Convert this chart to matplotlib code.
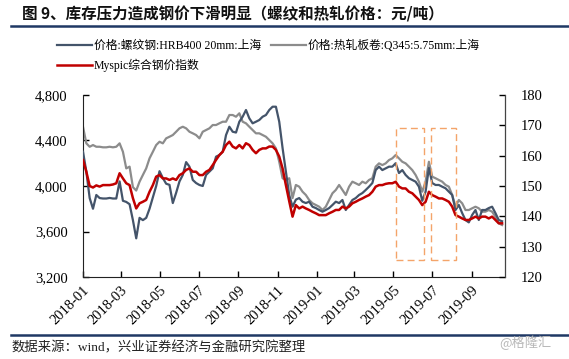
import matplotlib
matplotlib.use("Agg")
import matplotlib.pyplot as plt
import matplotlib.dates as mdates
from matplotlib.patches import Rectangle
from matplotlib.lines import Line2D
from matplotlib.ticker import FuncFormatter, MultipleLocator
import pandas as pd

plt.rcParams['font.family'] = ['Liberation Serif', 'Noto Sans CJK SC', 'DejaVu Sans']

title = "图 9、库存压力造成钢价下滑明显（螺纹和热轧价格：元/吨）"
source = "数据来源：wind，兴业证券经济与金融研究院整理"
watermark = "@格隆汇"
label_rebar = "价格:螺纹钢:HRB400 20mm:上海"
label_hrc = "价格:热轧板卷:Q345:5.75mm:上海"
label_idx = "Myspic综合钢价指数"

start_date = "2018-01-01"
end_date = "2019-10-18"

rebar = [4301, 4126, 3894, 3800, 3921, 3894, 3890, 3890, 3895, 3890, 3890, 4040, 3870,
         3860, 3840, 3700, 3540, 3720, 3700, 3720, 3800, 3900, 4000, 4130, 4070, 4020,
         4010, 3850, 3940, 4040, 4097, 4210, 4170,
         4053, 4026, 4009, 4000, 4097, 4126, 4155, 4258, 4272, 4301, 4448, 4521, 4477,
         4470, 4565, 4609, 4668, 4595, 4551, 4565, 4580, 4609, 4624, 4668, 4697, 4697,
         4565, 4334, 4126, 3921,
         3818, 3880, 3894, 3862, 3850, 3862, 3818, 3806, 3789, 3774, 3789, 3806, 3833,
         3862, 3850, 3877, 3789, 3833, 3877, 3894, 3921, 3938, 3965, 3994, 4026, 4140,
         4170, 4140, 4155, 4170,
         4170, 4200, 4114, 4140, 4097, 4068, 4053, 4038, 3994, 3870, 3950, 4158, 4026,
         4009, 4009, 3994, 3980, 3950, 3921, 3789, 3833, 3762, 3701, 3680, 3745, 3789,
         3701, 3789, 3789, 3806, 3818, 3762, 3701, 3690]

hrc = [4520, 4375, 4345, 4360, 4345, 4345, 4340, 4340, 4345, 4340, 4345, 4375, 4301,
       4155, 4170, 3990, 3960, 4038, 4097, 4155, 4243, 4301, 4360, 4389, 4375, 4419,
       4433, 4448, 4477, 4507, 4521, 4507, 4477,
       4463, 4448, 4419, 4477, 4492, 4507, 4536, 4536, 4551, 4565, 4565, 4624, 4624,
       4609, 4639, 4565, 4551, 4521, 4492, 4463, 4463, 4448, 4433, 4404, 4375, 4331,
       4213, 4068, 4053, 4068,
       3894, 4009, 3994, 3950, 3921, 3877, 3848, 3833, 3818, 3789, 3818, 3877, 3936,
       3965, 4009, 3965, 3921, 3994, 4038, 4024, 4009, 4038, 4024, 4053, 4068, 4170,
       4199, 4184, 4199, 4228,
       4243, 4272, 4243, 4213, 4199, 4170, 4140, 4097, 4038, 3950, 4038, 4213, 4082,
       4068, 4053, 4038, 4009, 3994, 3921, 3818, 3877, 3848, 3789, 3789, 3804, 3818,
       3804, 3774, 3774, 3789, 3774, 3730, 3672, 3657]

myspic = [158.5, 154.7, 150.0, 149.5, 150.2, 149.8, 150.3, 150.3, 150.3, 150.5, 150.9, 154.2, 152.5,
          150.9, 150.3, 146.0, 142.6, 144.3, 144.8, 145.4, 148.1, 150.3, 153.1, 153.6, 152.5, 152.5,
          152.0, 152.5, 152.0, 153.6, 154.2, 155.3, 155.8,
          154.7, 154.7, 153.6, 153.6, 154.7, 155.3, 156.9, 158.6, 160.2, 161.3, 163.5, 164.6, 163.0,
          162.4, 163.5, 162.4, 164.1, 163.5, 161.9, 160.8, 161.9, 162.4, 162.4, 163.0, 163.0, 161.9,
          159.7, 155.8, 150.3, 145.0,
          139.9, 143.7, 142.6, 143.2, 142.6, 142.1, 141.5, 141.0, 140.4, 140.4, 140.4, 141.0, 141.5,
          142.1, 142.1, 143.2, 142.6, 143.2, 144.3, 144.8, 145.4, 145.9, 146.5, 147.0, 148.1, 149.8,
          150.3, 150.3, 150.7, 150.9,
          150.9, 151.4, 149.8, 149.2, 149.2, 148.1, 147.6, 146.5, 145.4, 143.7, 144.8, 148.1, 147.0,
          146.5, 145.9, 145.9, 145.4, 144.8, 143.2, 140.4, 139.9, 139.3, 138.8, 138.8, 139.3, 139.9,
          139.3, 139.9, 139.9, 139.3, 139.9, 138.8, 137.7, 137.7]

box_periods = [("2019-05-05", "2019-06-18"), ("2019-06-29", "2019-08-07")]
box_range = (125.6, 169.0)

dates = pd.date_range(start_date, end_date, periods=len(rebar))

fig = plt.figure(figsize=(5.69, 3.59), dpi=100)
ax = fig.add_axes([0.1459, 0.2284, 0.888 - 0.1459, 0.7354 - 0.2284])
ax2 = ax.twinx()

c_rebar = "#44546a"
c_hrc = "#8c8c8c"
c_idx = "#c00000"

l1, = ax.plot(dates, rebar, color=c_rebar, lw=1.6, label=label_rebar, zorder=3)
l2, = ax.plot(dates, hrc, color=c_hrc, lw=1.6, label=label_hrc, zorder=2)
l3, = ax2.plot(dates, myspic, color=c_idx, lw=1.8, label=label_idx, zorder=4)

for s, e in box_periods:
    x0 = mdates.date2num(pd.Timestamp(s))
    x1 = mdates.date2num(pd.Timestamp(e))
    ax2.add_patch(Rectangle((x0, box_range[0]), x1 - x0, box_range[1] - box_range[0],
                            fill=False, ec="#f4a46a", lw=1.0, ls=(0, (5, 3)), zorder=5))

ax.set_xlim(pd.Timestamp("2018-01-01"), pd.Timestamp("2019-10-23"))
ax.set_ylim(3200, 4800)
ax2.set_ylim(120, 180)
ax.yaxis.set_major_locator(MultipleLocator(400))
ax.yaxis.set_major_formatter(FuncFormatter(lambda v, p: f"{int(v):,}"))
ax2.yaxis.set_major_locator(MultipleLocator(10))

ticks = pd.date_range("2018-01-01", "2019-09-01", freq="2MS")
ax.set_xticks(ticks)
ax.set_xticklabels([t.strftime("%Y-%m") for t in ticks], rotation=45,
                   ha="right", va="top", rotation_mode="anchor")

for a in (ax, ax2):
    a.spines["top"].set_visible(False)
    a.tick_params(direction="in", length=4, width=1, labelsize=10.5, pad=11)
ax.tick_params(axis="x", pad=5)
ax.spines["left"].set_color("#222222")
ax.spines["bottom"].set_color("#222222")
ax2.spines["right"].set_color("#444444")
ax2.spines["left"].set_visible(False)
ax2.spines["bottom"].set_visible(False)
ax.patch.set_visible(False)

fig.legend(handles=[l1, l3, l2], labels=[label_rebar, label_idx, label_hrc],
           ncol=2, loc="upper left", bbox_to_anchor=(0.100, 1 - 40 / 359), frameon=False,
           fontsize=8.5, handlelength=3.0, handletextpad=0.15, columnspacing=0.8,
           labelspacing=0.55, borderaxespad=0, borderpad=0)

fig.text(22 / 569, 1 - 14 / 359, title, fontsize=11.2, fontweight="bold",
         ha="left", va="center", color="#111111",
         family=["Noto Sans CJK SC", "DejaVu Sans"])
fig.add_artist(Line2D([11 / 569, 1.0], [1 - 26 / 359, 1 - 26 / 359],
                      color="#1f3864", lw=1.8))
fig.add_artist(Line2D([11 / 569, 1.0], [1 - 335 / 359, 1 - 335 / 359],
                      color="#1f3864", lw=1.8))
fig.text(12 / 569, 1 - 348 / 359, source, fontsize=9.6, ha="left", va="center",
         color="#222222")
fig.text(552 / 569, 1 - 343 / 359, watermark, fontsize=9.5, ha="right", va="center",
         color="#b8b8b8", family=["Noto Sans CJK SC", "DejaVu Sans"])

fig.savefig("out.png", dpi=100)
